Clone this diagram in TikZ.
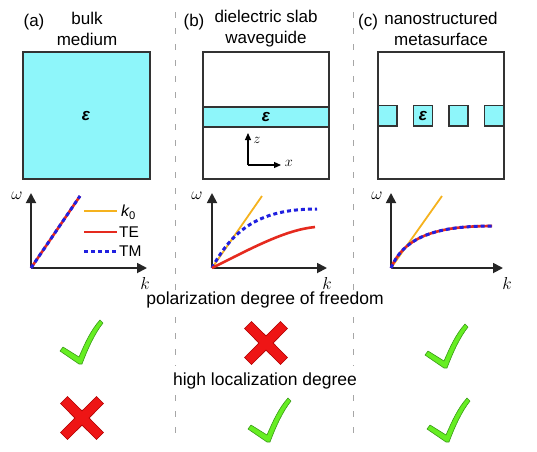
\documentclass[tikz,border=0pt]{standalone}
\usepackage{fontspec}
\setmainfont{Liberation Sans}
\usetikzlibrary{arrows.meta}
\definecolor{cy}{HTML}{8EF6FA}
\definecolor{org}{HTML}{F5B21E}
\definecolor{rd}{HTML}{E52A1E}
\definecolor{bl}{HTML}{2020E0}
\definecolor{gfill}{HTML}{66EE22}
\definecolor{gline}{HTML}{3A9A18}
\definecolor{xfill}{HTML}{EE1515}
\definecolor{xline}{HTML}{B00000}
\definecolor{box}{HTML}{333333}
\tikzset{
  lbl/.style={font=\fontsize{17}{19}\selectfont, inner sep=0pt},
  ttl/.style={font=\fontsize{17}{21}\selectfont, inner sep=0pt, align=center},
  eps/.style={font=\fontsize{17}{17}\selectfont\bfseries\itshape, inner sep=0pt},
  boxst/.style={draw=box, line width=1.1pt},
  axis/.style={draw=black!85, line width=1.8pt, -{Triangle[length=10pt,width=10pt]}},
  sep/.style={draw=gray!70, line width=1pt, dash pattern=on 6pt off 10pt},
  k0line/.style={draw=org, line width=1.8pt},
  teline/.style={draw=rd, line width=2.6pt},
  tmline/.style={draw=bl, line width=3pt, dash pattern=on 4pt off 3pt},
  chk/.pic={\filldraw[fill=gfill, draw=gline, line width=0.6pt, line join=round]
     (-1,1) -- (-20,-12) -- (-17,-16) -- (-1,-6) .. controls (5,-20) and (11,-33) .. (20,-43)
     -- (23,-40) .. controls (15,-30) and (8,-15) .. (2,1) -- cycle;},
  crs/.pic={\filldraw[fill=xfill, draw=xline, line width=0.6pt, line join=miter]
     (21.5,14.5) -- (7.1,0) -- (21.5,-14.5) -- (14.5,-21.5) -- (0,-7.1) -- (-14.5,-21.5)
     -- (-21.5,-14.5) -- (-7.1,0) -- (-21.5,14.5) -- (-14.5,21.5) -- (0,7.1) -- (14.5,21.5) -- cycle;}
}
\begin{document}
\begin{tikzpicture}[x=1pt,y=-1pt]
\useasboundingbox (0,0) rectangle (537,451);
% separators
\foreach \xx in {175,353}{
  \draw[sep] (\xx,12) -- (\xx,290);
  \draw[sep] (\xx,317) -- (\xx,366);
  \draw[sep] (\xx,395) -- (\xx,442);
}
% titles
\node[lbl] (la) at (34,22) {(a)};
\node[ttl] (ta) at (87,29) {bulk\\medium};
\node[lbl] (lb) at (194,22) {(b)};
\node[ttl] (tb) at (266,29) {dielectric slab\\waveguide};
\node[lbl] (lc) at (368,22) {(c)};
\node[ttl] (tc) at (441,29) {nanostructured\\metasurface};
% box a
\draw[boxst, fill=cy] (23,52) rectangle (150,179);
\node[eps] (ea) at (86,116) {ε};
% box b
\draw[boxst] (203,52) rectangle (329,179);
\draw[boxst, fill=cy] (203,107) rectangle (329,127);
\node[eps] (eb) at (266,117) {ε};
\coordinate (o) at (248,165);
\coordinate (zt) at (248,133);
\coordinate (xt) at (281,165);
\draw[line width=1.2pt, -{Triangle[length=7pt,width=6pt]}] (o) -- (zt);
\draw[line width=1.2pt, -{Triangle[length=7pt,width=6pt]}] (o) -- (xt);
\node[font=\fontsize{15}{15}\selectfont, inner sep=0pt] (zl) at (257,140) {$z$};
\node[font=\fontsize{15}{15}\selectfont, inner sep=0pt] (xl) at (289,163) {$x$};
% box c
\draw[boxst] (378,52) rectangle (504,179);
\foreach \sx in {378,413.5,449,484.5}{
  \draw[boxst, fill=cy] (\sx,105.5) rectangle ++(19,20.5);
}
\node[eps] (ec) at (423,116) {ε};
% plot a
\coordinate (oa) at (31,268);
\draw[axis] (oa) -- (31,193);
\draw[axis] (oa) -- (147,268);
\node[font=\fontsize{17}{17}\selectfont, inner sep=0pt] (wa) at (17,196) {$\omega$};
\node[font=\fontsize{17}{17}\selectfont, inner sep=0pt] (ka) at (145,283) {$k$};
\coordinate (ea1) at (80,196);
\draw[teline] (oa) -- (ea1);
\draw[tmline] (oa) -- (ea1);
\draw[k0line] (84,211) -- (117,211);
\draw[teline] (84,232) -- (117,232);
\draw[tmline] (84,251) -- (117,251);
\node[lbl, anchor=west, font=\fontsize{16}{16}\selectfont] (k0) at (121,212) {\itshape k\textsubscript{\upshape 0}};
\node[lbl, anchor=west, font=\fontsize{15.5}{16}\selectfont] (te) at (119,232) {TE};
\node[lbl, anchor=west, font=\fontsize{15.5}{16}\selectfont] (tm) at (119,251) {TM};
% plot b
\coordinate (ob) at (212,268);
\draw[axis] (ob) -- (212,193);
\draw[axis] (ob) -- (327,268);
\node[font=\fontsize{17}{17}\selectfont, inner sep=0pt] (wb) at (197,196) {$\omega$};
\node[font=\fontsize{17}{17}\selectfont, inner sep=0pt] (kb) at (327,283) {$k$};
\draw[k0line] (ob) -- (262,196);
\draw[tmline] (ob) .. controls (235,225) and (265,209) .. (317,209);
\draw[teline] (ob) .. controls (252,248) and (285,230) .. (315,227);
% plot c
\coordinate (oc) at (391,268);
\draw[axis] (oc) -- (391,193);
\draw[axis] (oc) -- (503,268);
\node[font=\fontsize{17}{17}\selectfont, inner sep=0pt] (wc) at (377,196) {$\omega$};
\node[font=\fontsize{17}{17}\selectfont, inner sep=0pt] (kc) at (507,283) {$k$};
\draw[k0line] (oc) -- (442,196);
\draw[teline] (oc) .. controls (405,235) and (440,226) .. (492,226);
\draw[tmline] (oc) .. controls (405,235) and (440,226) .. (492,226);
% rows
\node[lbl, font=\fontsize{17.5}{18}\selectfont] (pol) at (265,300) {polarization degree of freedom};
\node[lbl, font=\fontsize{17.5}{18}\selectfont] (loc) at (265,381) {high localization degree};
\pic at (80,363) {chk};
\pic at (266,343) {crs};
\pic at (445,367) {chk};
\pic at (82,418) {crs};
\pic at (268,441) {chk};
\pic at (447,441) {chk};
\end{tikzpicture}
\end{document}
